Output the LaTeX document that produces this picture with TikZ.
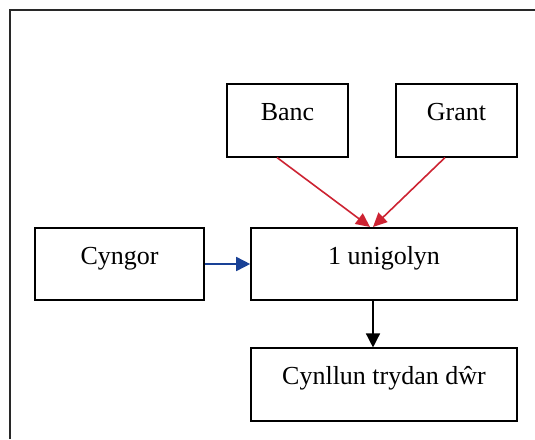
\documentclass[tikz,border=0pt]{standalone}
\usepackage{fontspec}
\setmainfont{Liberation Serif}
\usetikzlibrary{arrows.meta,calc}
\definecolor{arrred}{RGB}{205,35,50}
\definecolor{arrblue}{RGB}{25,65,150}
\definecolor{frame}{RGB}{40,40,40}
\begin{document}
\begin{tikzpicture}[x=1pt,y=-1pt,
  box/.style={draw=black,line width=1.6pt,rectangle,minimum height=72.5pt,
    text height=9pt,text depth=9pt,inner sep=0pt,font=\fontsize{26}{30}\selectfont},
  redarrow/.style={draw=arrred,line width=1.6pt,-{Triangle[length=14pt,width=13pt]}},
  bluearrow/.style={draw=arrblue,line width=1.6pt,-{Triangle[length=14pt,width=14pt]}},
  blackarrow/.style={draw=black,line width=1.4pt,-{Triangle[length=14pt,width=14pt]}}]
\useasboundingbox (0,0) rectangle (535,439);
\fill[white] (0,0) rectangle (535,439);
\draw[frame,line width=2pt] (10,439) -- (10,10) -- (535,10);
\node[box,minimum width=121pt] (banc) at (287.5,120.5) {Banc};
\node[box,minimum width=121pt] (grant) at (456.5,120.5) {Grant};
\node[box,minimum width=266pt] (unig) at (384,264) {1 unigolyn};
\node[box,minimum width=169pt] (cyngor) at (119.5,264) {Cyngor};
\node[box,minimum width=266pt] (cyn) at (384,384.5) {Cynllun trydan dŵr};
\coordinate (bancout) at ($(banc.south)+(-10.5,0)$);
\coordinate (grantout) at ($(grant.south)+(-11.5,0)$);
\coordinate (unigin1) at ($(unig.north)+(-14,0)$);
\coordinate (unigin2) at ($(unig.north)+(-11,0)$);
\coordinate (unigout) at ($(unig.south)+(-11,0)$);
\coordinate (cynin) at ($(cyn.north)+(-11,0)$);
\draw[redarrow] (bancout) -- (unigin1);
\draw[redarrow] (grantout) -- (unigin2);
\draw[bluearrow] (cyngor.east) -- (unig.west);
\draw[blackarrow] (unigout) -- (cynin);
\end{tikzpicture}
\end{document}
